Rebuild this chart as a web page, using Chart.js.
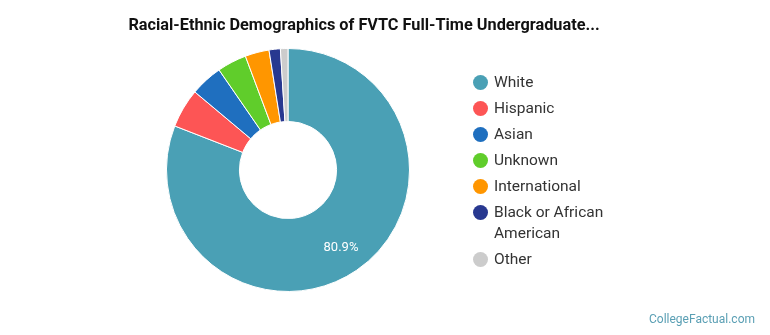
<!DOCTYPE html>
<html>
<head>
<meta charset="utf-8">
<script src="https://cdn.jsdelivr.net/npm/chart.js@4"></script>
<style>
  html, body { margin: 0; padding: 0; background: #fff; }
  #wrap { position: relative; width: 770px; height: 335px; font-family: Roboto, sans-serif; }
  #title { position: absolute; left: 0; top: 15px; width: 728px; text-align: center;
           font-weight: bold; font-size: 16.3px; color: #111; white-space: nowrap; }
  #legend { position: absolute; left: 472px; top: 72px; margin: 0; padding: 0; list-style: none; }
  #legend li { position: relative; padding-left: 22px; width: 124px; font-size: 15.5px;
               line-height: 21px; color: #333; margin-bottom: 5px; }
  #legend li span { position: absolute; left: 0.5px; top: 3px; width: 15px; height: 15px; border-radius: 50%; }
  #credit { position: absolute; right: 15px; top: 312px; font-size: 12px; color: #5a9fb4; }
</style>
</head>
<body>
<div id="wrap">
  <canvas id="chart" width="770" height="335"></canvas>
  <div id="title">Racial-Ethnic Demographics of FVTC Full-Time Undergraduate...</div>
  <ul id="legend"></ul>
  <div id="credit">CollegeFactual.com</div>
</div>
<script>
// 데이터
const labels = ["White", "Hispanic", "Asian", "Unknown", "International", "Black or African American", "Other"];
const values = [80.9, 5.2, 4.3, 3.9, 3.2, 1.5, 1.0];
const colors = ["#4aa0b5", "#fd5555", "#1f6fbf", "#60cd2b", "#ff9600", "#283890", "#cccccc"];
const shownLabels = ["80.9%", "", "", "", "", "", ""];

// 조각 위 퍼센트 라벨
const sliceLabels = {
  id: "sliceLabels",
  afterDatasetsDraw(chart) {
    const ctx = chart.ctx;
    chart.getDatasetMeta(0).data.forEach((arc, i) => {
      if (!shownLabels[i]) return;
      const p = arc.getProps(["startAngle", "endAngle", "innerRadius", "outerRadius", "x", "y"]);
      const mid = (p.startAngle + p.endAngle) / 2;
      const r = p.innerRadius + (p.outerRadius - p.innerRadius) * 0.62;
      ctx.save();
      ctx.fillStyle = "#ffffff";
      ctx.font = "13px Roboto";
      ctx.textAlign = "center";
      ctx.textBaseline = "middle";
      ctx.fillText(shownLabels[i], p.x + Math.cos(mid) * r, p.y + Math.sin(mid) * r);
      ctx.restore();
    });
  }
};

const chart = new Chart(document.getElementById("chart"), {
  type: "doughnut",
  data: {
    labels: labels,
    datasets: [{
      data: values,
      backgroundColor: colors,
      borderColor: "#ffffff",
      borderWidth: 1
    }]
  },
  options: {
    responsive: false,
    animation: false,
    cutout: "40%",
    layout: { padding: { left: 106, right: 300, top: 48, bottom: 43 } },
    plugins: {
      legend: { display: false },
      tooltip: { enabled: false }
    }
  },
  plugins: [sliceLabels]
});

// 범례
const legend = document.getElementById("legend");
labels.forEach((name, i) => {
  const li = document.createElement("li");
  li.innerHTML = `<span style="background:${colors[i]}"></span>${name}`;
  legend.appendChild(li);
});
</script>
</body>
</html>
